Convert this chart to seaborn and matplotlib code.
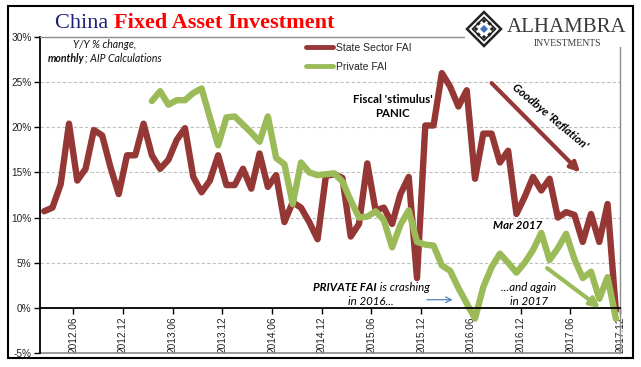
import numpy as np
import pandas as pd
import matplotlib
matplotlib.use("Agg")
import matplotlib.pyplot as plt
from matplotlib.patches import Rectangle, Polygon
from matplotlib.lines import Line2D
import seaborn as sns

# monthly data, 2012.03 .. 2017.12 (Y/Y %)
months = pd.period_range("2012-03", "2017-12", freq="M")

state_fai = [10.7, 11.1, 13.7, 20.4, 14.1, 15.4, 19.7, 19.1, 15.6, 12.6,
             16.9, 16.9, 20.4, 16.9, 15.4, 16.4, 18.6, 19.9, 14.5, 12.8,
             14.1, 16.9, 13.6, 13.6, 15.4, 13.2, 17.1, 13.4, 14.7, 9.5,
             11.7, 11.1, 9.5, 7.6, 14.6, 14.8, 14.4, 7.9, 9.3, 16.0,
             10.8, 11.1, 9.3, 12.6, 14.5, 3.3, 20.2, 20.2, 26.0, 24.5,
             22.3, 24.1, 14.3, 19.3, 19.3, 16.1, 17.4, 10.4, 12.3, 14.5,
             13.0, 14.3, 10.0, 10.6, 10.3, 7.3, 10.4, 7.3, 11.5, -0.3]

private_fai = [np.nan] * 13 + [
    22.9, 24.0, 22.5, 23.0, 23.0, 23.8, 24.3, 21.1, 18.0, 21.1,
    21.2, 20.3, 19.4, 18.4, 21.2, 16.6, 15.9, 11.5, 16.1, 15.0,
    14.7, 14.8, 14.9, 14.0, 11.9, 10.0, 10.1, 10.7, 9.7, 6.7,
    9.2, 10.8, 7.3, 7.0, 6.9, 4.7, 4.1, 2.2, 0.5, -1.2,
    2.3, 4.5, 6.0, 5.0, 3.9, 5.0, 6.4, 8.3, 5.3, 6.6,
    8.2, 5.4, 3.3, 4.0, 1.0, 3.4, -1.2]

tick_labels = ["2012.06", "2012.12", "2013.06", "2013.12", "2014.06", "2014.12",
               "2015.06", "2015.12", "2016.06", "2016.12", "2017.06", "2017.12"]

RED = "#953735"
GREEN = "#9BBB59"

W, H = 641, 367
def fx(p):
    return p / W
def fy(p):
    return 1 - p / H

sns.set_theme(style="white")
plt.rcParams["font.family"] = ["Liberation Sans", "DejaVu Sans"]

df = pd.DataFrame({"pos": np.arange(len(months)) + 0.5,
                   "State Sector FAI": state_fai,
                   "Private FAI": private_fai})
long = df.melt(id_vars="pos", var_name="series", value_name="yoy").dropna()

fig = plt.figure(figsize=(6.41, 3.67), dpi=100)
fig.patch.set_facecolor("white")
ax = fig.add_axes([fx(40), fy(353), (620 - 40) / W, (353 - 37) / H])

sns.lineplot(data=long, x="pos", y="yoy", hue="series",
             hue_order=["State Sector FAI", "Private FAI"],
             palette={"State Sector FAI": RED, "Private FAI": GREEN},
             linewidth=4.6, legend=False, ax=ax,
             solid_joinstyle="round", solid_capstyle="round")

# x axis crosses at 0% (set before ticks: set_position resets tick objects)
ax.spines["bottom"].set_position(("data", 0))
ax.spines["bottom"].set_color("black")
ax.spines["bottom"].set_linewidth(1.3)
ax.spines["left"].set_color("black")
ax.spines["left"].set_linewidth(1.3)
for s in ["top", "right"]:
    ax.spines[s].set_color("#8C8C8C")
    ax.spines[s].set_linewidth(1.0)

ax.set_xlim(0, len(months))
ax.set_ylim(-5, 30)
ax.set_xlabel("")
ax.set_ylabel("")
ax.set_yticks(range(-5, 31, 5))
ax.set_yticklabels([f"{v}%" for v in range(-5, 31, 5)])
ax.set_xticks(np.arange(4, len(months) + 1, 6))
ax.set_xticklabels(tick_labels)

ax.axhline(-5, color="#8C8C8C", lw=1.2, clip_on=False, zorder=1)

ax.yaxis.grid(True, linestyle=(0, (3, 2)), color="#BFBFBF", lw=0.8)
ax.set_axisbelow(True)
ax.tick_params(axis="x", direction="out", length=4, width=1, color="black",
               pad=2, labelsize=7.3, labelcolor="#222222", bottom=True,
               labelrotation=90)
ax.tick_params(axis="y", direction="out", length=4, width=1, color="black",
               pad=2, labelsize=7.3, labelcolor="#222222", left=True)

# legend
handles = [Line2D([], [], color=RED, lw=3.5), Line2D([], [], color=GREEN, lw=3.5)]
ax.legend(handles, ["State Sector FAI", "Private FAI"], loc="upper left",
          bbox_to_anchor=(fx(306), fy(43)), bbox_transform=fig.transFigure,
          frameon=False, fontsize=7.5, handlelength=2.6, handletextpad=0.3,
          labelspacing=0.87, borderpad=0, borderaxespad=0)

# title
t1 = fig.text(fx(55), fy(33), "China ", family="Liberation Serif", fontsize=16,
              color="#1F1F78", va="bottom", ha="left")
ax.annotate("Fixed Asset Investment", xy=(1, 0), xycoords=t1, va="bottom", ha="left",
            family="Liberation Serif", fontsize=16, fontweight="bold", color="#FF0000",
            annotation_clip=False)

# subtitle
fig.text(fx(73), fy(44), "Y/Y % change,", family="Lato", style="italic",
         fontsize=7.6, va="center", ha="left", color="#111111")
s1 = fig.text(fx(48), fy(58), "monthly", family="Lato", style="italic",
              fontweight="bold", fontsize=7.6, va="center", ha="left", color="#111111")
ax.annotate("; AIP Calculations", xy=(1, 0), xycoords=s1, va="bottom", ha="left",
            family="Lato", style="italic", fontsize=7.6, color="#111111",
            annotation_clip=False)

# annotations
ann = dict(family="Lato", fontsize=8.3, ha="center", va="center", color="black")
ax.text(42.6, 22.3, "Fiscal 'stimulus'\nPANIC", fontweight="bold", linespacing=1.25, **ann)
ax.text(61.6, 21.2, "Goodbye 'Reflation'", fontweight="bold", style="italic",
        rotation=-40, rotation_mode="anchor", **ann)
ax.annotate("", xy=(65.2, 15.0), xytext=(54.5, 24.9),
            arrowprops=dict(arrowstyle="-|>", color=RED, lw=3, mutation_scale=14,
                            shrinkA=0, shrinkB=0))
ax.text(57.6, 9.1, "Mar 2017", fontweight="bold", style="italic", **ann)

p1 = ax.text(33.0, 2.2, "PRIVATE FAI", fontweight="bold", style="italic",
             family="Lato", fontsize=8.3, ha="left", va="center", color="black")
ax.annotate(" is crashing", xy=(1, 0), xycoords=p1, va="bottom", ha="left",
            family="Lato", style="italic", fontsize=8.3, color="black")
ax.text(39.9, 0.7, "in 2016...", style="italic", **ann)
ax.annotate("", xy=(49.8, 0.9), xytext=(46.7, 0.9),
            arrowprops=dict(arrowstyle="->", color="#4F81BD", lw=0.9,
                            mutation_scale=10, shrinkA=0, shrinkB=0))
ax.text(59.0, 1.45, "...and again\nin 2017", style="italic", linespacing=1.3, **ann)
ax.annotate("", xy=(67.6, 0.0), xytext=(61.2, 4.4),
            arrowprops=dict(arrowstyle="-|>", color=GREEN, lw=3, mutation_scale=14,
                            shrinkA=0, shrinkB=0))

# logo block (covers the top corner of the plot frame)
fig.add_artist(Rectangle((fx(465), fy(47)), (628 - 465) / W, (47 - 7) / H,
                         transform=fig.transFigure, facecolor="white",
                         edgecolor="none", zorder=5))

def diamond(cx, cy, r, **kw):
    pts = [(fx(cx), fy(cy - r)), (fx(cx + r), fy(cy)),
           (fx(cx), fy(cy + r)), (fx(cx - r), fy(cy))]
    fig.add_artist(Polygon(pts, closed=True, transform=fig.transFigure, zorder=6, **kw))

diamond(484, 29, 17, facecolor="none", edgecolor="#222222", lw=1.8)
diamond(484, 29, 11.5, facecolor="none", edgecolor="#222222", lw=1.2)
for dx, dy in [(0, -8), (8, 0), (0, 8), (-8, 0), (5.5, -5.5), (5.5, 5.5), (-5.5, 5.5), (-5.5, -5.5)]:
    diamond(484 + dx, 29 + dy, 2.2, facecolor="#222222", edgecolor="none")
diamond(484, 29, 4, facecolor="#3F72B8", edgecolor="none")
fig.text(fx(567), fy(27), "ALHAMBRA", family="Liberation Serif", fontsize=15,
         color="#3A3A3A", ha="center", va="center", zorder=6)
fig.text(fx(567), fy(43), "INVESTMENTS", family="Liberation Serif", fontsize=7,
         color="#3A3A3A", ha="center", va="center", zorder=6)

# outer frame
fig.add_artist(Rectangle((fx(8), fy(358)), (633 - 8) / W, (358 - 6) / H,
                         transform=fig.transFigure, facecolor="none",
                         edgecolor="black", lw=1.5, zorder=7))

fig.savefig("out.png", dpi=100)
